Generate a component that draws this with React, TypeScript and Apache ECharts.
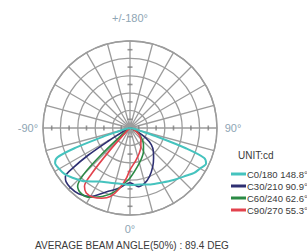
import React, { useEffect, useRef } from "react";
import * as echarts from "echarts";

// Candela curves (radius in % of outer ring, angle in degrees; 0 = nadir, -90 left, 90 right)
const c0Angles = [-90, -78, -74, -72, -70, -68, -65, -60, -55, -50, -40, -30, -20, -10, 0, 10, 20, 30, 40, 50, 55, 60, 65, 68, 70, 72, 74, 78, 90];
const c0Values = [0, 4.5, 13.5, 33, 67, 90, 95, 94, 92, 88, 80, 71, 67, 65, 65.5, 66, 69, 72.5, 78, 85, 90, 93, 96.5, 92, 69, 34.5, 14, 4.5, 0];

const c30Angles = [-90, -70, -62, -59, -57, -55, -53, -50, -45, -38, -30, -20, -10, 0, 8, 15, 22, 30, 38, 45, 52, 58, 65, 75, 90];
const c30Values = [0, 3, 11, 29, 57, 80, 93, 96, 97, 96, 91, 78, 70, 63, 68, 65.5, 60, 52, 44, 38, 31, 21, 9, 2, 0];

const c60Angles = [-90, -55, -50, -47, -45, -42, -36, -30, -22, -14, -6, 0, 10, 20, 30, 40, 50, 60, 70, 90];
const c60Values = [0, 2.5, 11.5, 46, 75, 90, 94, 92, 85, 76, 64, 57.5, 46, 38, 31, 24, 17, 10, 3.5, 0];

const c90Angles = [-90, -50, -44, -42, -40, -38, -34, -28, -22, -16, -10, -4, 0, 10, 20, 30, 40, 50, 60, 70, 90];
const c90Values = [0, 2, 9, 35, 69, 85, 90, 90, 87, 82, 71, 57.5, 48, 38, 31, 25, 19.5, 15, 9, 3.5, 0];

const seriesNames = ["C0/180 148.8°", "C30/210 90.9°", "C60/240 62.6°", "C90/270 55.3°"];
const seriesColors = ["#45c3be", "#2e2f72", "#2b8a45", "#e2424d"];

const tickRadii = [10, 30, 50, 70, 90];
const axisLabels = { top: "+/-180°", left: "-90°", right: "90°", bottom: "0°" };
const unitLabel = "UNIT:cd";
const footer = "AVERAGE BEAM ANGLE(50%) : 89.4 DEG";

const pairs = (angles: number[], values: number[]) => angles.map((a, i) => [values[i], a]);

export default function App() {
  const ref = useRef<HTMLDivElement>(null);
  useEffect(() => {
    if (!ref.current) return;
    const chart = echarts.init(ref.current, undefined, { renderer: "svg" });
    const curves = [
      pairs(c0Angles, c0Values),
      pairs(c30Angles, c30Values),
      pairs(c60Angles, c60Values),
      pairs(c90Angles, c90Values),
    ];
    const vTicks = tickRadii.flatMap((r) => [[r, 0], [r, 180]]);
    const hTicks = tickRadii.flatMap((r) => [[r, -90], [r, 90]]);
    const gridColor = "#9c9c9c";
    const labelColor = "#8ea5b4";
    const font = "'Liberation Sans', Arial, sans-serif";
    chart.setOption({
      animation: false,
      backgroundColor: "#ffffff",
      polar: { center: [130, 128], radius: 87 },
      angleAxis: {
        type: "value",
        min: -180,
        max: 180,
        interval: 15,
        startAngle: 90,
        clockwise: false,
        axisLine: { show: true, lineStyle: { color: gridColor, width: 1.4 } },
        axisTick: { show: false },
        axisLabel: { show: false },
        splitLine: { show: true, lineStyle: { color: gridColor, width: 1.3 } },
      },
      radiusAxis: {
        type: "value",
        min: 0,
        max: 100,
        interval: 20,
        axisLine: { show: false },
        axisTick: { show: false },
        axisLabel: { show: false },
        splitLine: { show: true, lineStyle: { color: gridColor, width: 1.3 } },
      },
      legend: {
        data: seriesNames,
        orient: "vertical",
        left: 231,
        top: 168,
        itemWidth: 15,
        itemHeight: 3,
        itemGap: 0,
        icon: "rect",
        textStyle: {
          fontFamily: font,
          fontSize: 9.5,
          color: "#3a3a3a",
          lineHeight: 12,
          padding: [0, 0, 0, -4],
        },
        padding: 0,
      },
      graphic: [
        { type: "text", x: 130, y: 18, style: { text: axisLabels.top, fill: labelColor, font: `11px ${font}`, align: "center", verticalAlign: "middle" } },
        { type: "text", x: 28, y: 128, style: { text: axisLabels.left, fill: labelColor, font: `11px ${font}`, align: "center", verticalAlign: "middle" } },
        { type: "text", x: 233, y: 128, style: { text: axisLabels.right, fill: labelColor, font: `11px ${font}`, align: "center", verticalAlign: "middle" } },
        { type: "text", x: 130, y: 229, style: { text: axisLabels.bottom, fill: labelColor, font: `11px ${font}`, align: "center", verticalAlign: "middle" } },
        { type: "text", x: 238, y: 155, style: { text: unitLabel, fill: "#3a3a3a", font: `10px ${font}`, align: "left", verticalAlign: "middle" } },
        { type: "text", x: 132, y: 245, style: { text: footer, fill: "#3a3a3a", font: `10px ${font}`, align: "center", verticalAlign: "middle" } },
      ],
      series: [
        {
          type: "scatter",
          coordinateSystem: "polar",
          data: vTicks,
          symbol: "rect",
          symbolSize: [5, 1.6],
          itemStyle: { color: "#7d7d7d" },
          silent: true,
          z: 1,
        },
        {
          type: "scatter",
          coordinateSystem: "polar",
          data: hTicks,
          symbol: "rect",
          symbolSize: [1.6, 5],
          itemStyle: { color: "#7d7d7d" },
          silent: true,
          z: 1,
        },
        ...curves.map((d, i) => ({
          name: seriesNames[i],
          type: "line",
          coordinateSystem: "polar",
          data: d,
          smooth: 0.3,
          showSymbol: false,
          symbol: "none",
          lineStyle: { color: seriesColors[i], width: i === 0 ? 2 : 1.6 },
          itemStyle: { color: seriesColors[i] },
          z: 3 + (i === 0 ? 4 : 0),
        })),
      ],
    });
    return () => chart.dispose();
  }, []);
  return <div ref={ref} style={{ position: "fixed", left: 0, top: 0, width: 307, height: 252 }} />;
}
